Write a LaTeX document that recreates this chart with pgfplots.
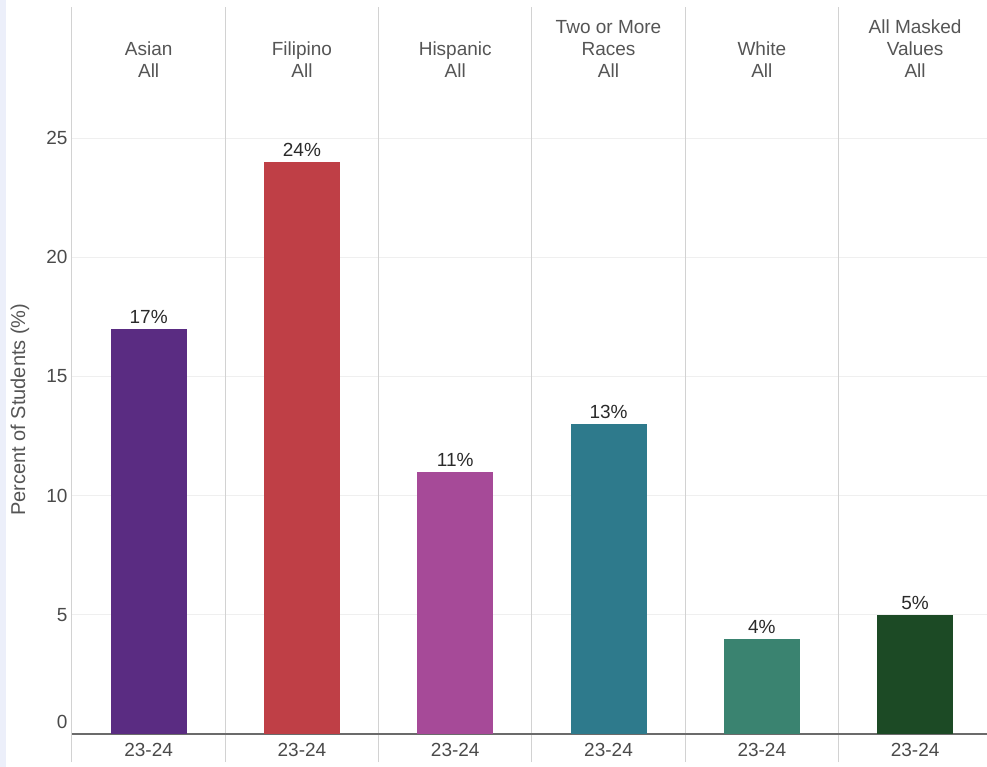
\documentclass[border=0pt]{standalone}
\usepackage{pgfplots}
\pgfplotsset{compat=1.18}
\usepackage{fontspec}
\setmainfont{Liberation Sans}
\definecolor{cAsian}{HTML}{5A2C82}
\definecolor{cFil}{HTML}{BF3F46}
\definecolor{cHisp}{HTML}{A64A98}
\definecolor{cTwo}{HTML}{2E7A8C}
\definecolor{cWhite}{HTML}{3A8370}
\definecolor{cMask}{HTML}{1C4A25}
\definecolor{headgray}{HTML}{555555}
\definecolor{tickgray}{HTML}{4A4A4A}
\definecolor{divgray}{HTML}{D2D2D2}
\definecolor{gridgray}{HTML}{EFEFEF}
\definecolor{axisgray}{HTML}{6B6B6B}
\definecolor{stripcol}{HTML}{ECEFFA}
\definecolor{labelblack}{HTML}{2A2A2A}
\begin{document}
\begin{tikzpicture}
\path[use as bounding box] (-72pt,-33pt) rectangle (915pt,734pt);
\fill[stripcol] (-72pt,-33pt) rectangle (-66pt,734pt);
\begin{axis}[
  at={(0,0)}, anchor=south west, scale only axis,
  width=915pt, height=727pt,
  xmin=-0.5, xmax=5.469, ymin=0, ymax=30.5,
  clip=false,
  /pgf/number format/assume math mode=true,
  axis line style={draw=none},
  tick pos=left,
  major tick length=0pt,
  ytick={5,10,15,20,25},
  ymajorgrids, xmajorgrids=false,
  grid style={draw=gridgray, line width=0.9pt},
  extra y ticks={0},
  extra y tick style={grid style={draw=axisgray, line width=1.2pt}, yticklabel style={yshift=12pt}},
  yticklabel style={font=\fontsize{19}{22}\selectfont, text=tickgray, xshift=-1pt},
  xtick={0,1,2,3,4,5},
  xticklabels={23-24,23-24,23-24,23-24,23-24,23-24},
  xticklabel style={font=\fontsize{19}{22}\selectfont, text=tickgray, yshift=-6pt},
  extra x ticks={-0.5,0.5,1.5,2.5,3.5,4.5},
  extra x tick labels={},
  extra x tick style={xmajorgrids=true, grid style={draw=divgray, line width=1pt}, major tick length=28pt, tick align=outside, tick style={draw=divgray, line width=1pt}},
  ylabel={Percent of Students (\%)},
  ylabel style={at={(axis description cs:-0.0568,0.446)}, anchor=center, font=\fontsize{20}{24}\selectfont, text=headgray},
  bar width=76pt, bar shift=0pt,
  nodes near coords={\pgfmathprintnumber{\pgfplotspointmeta}\%},
  every node near coord/.append style={font=\fontsize{19}{22}\selectfont, text=labelblack, yshift=2pt},
]
\addplot[ybar, bar shift=0pt, fill=cAsian, draw=none] coordinates {(0,17)};
\addplot[ybar, bar shift=0pt, fill=cFil, draw=none] coordinates {(1,24)};
\addplot[ybar, bar shift=0pt, fill=cHisp, draw=none] coordinates {(2,11)};
\addplot[ybar, bar shift=0pt, fill=cTwo, draw=none] coordinates {(3,13)};
\addplot[ybar, bar shift=0pt, fill=cWhite, draw=none] coordinates {(4,4)};
\addplot[ybar, bar shift=0pt, fill=cMask, draw=none] coordinates {(5,5)};
\begin{scope}[every node/.style={anchor=south, align=center, font=\fontsize{19}{22}\selectfont, text=headgray}]
\node at (axis cs:0,27.38) {Asian\\All};
\node at (axis cs:1,27.38) {Filipino\\All};
\node at (axis cs:2,27.38) {Hispanic\\All};
\node at (axis cs:3,27.38) {Two or More\\Races\\All};
\node at (axis cs:4,27.38) {White\\All};
\node at (axis cs:5,27.38) {All Masked\\Values\\All};
\end{scope}
\end{axis}
\end{tikzpicture}
\end{document}
